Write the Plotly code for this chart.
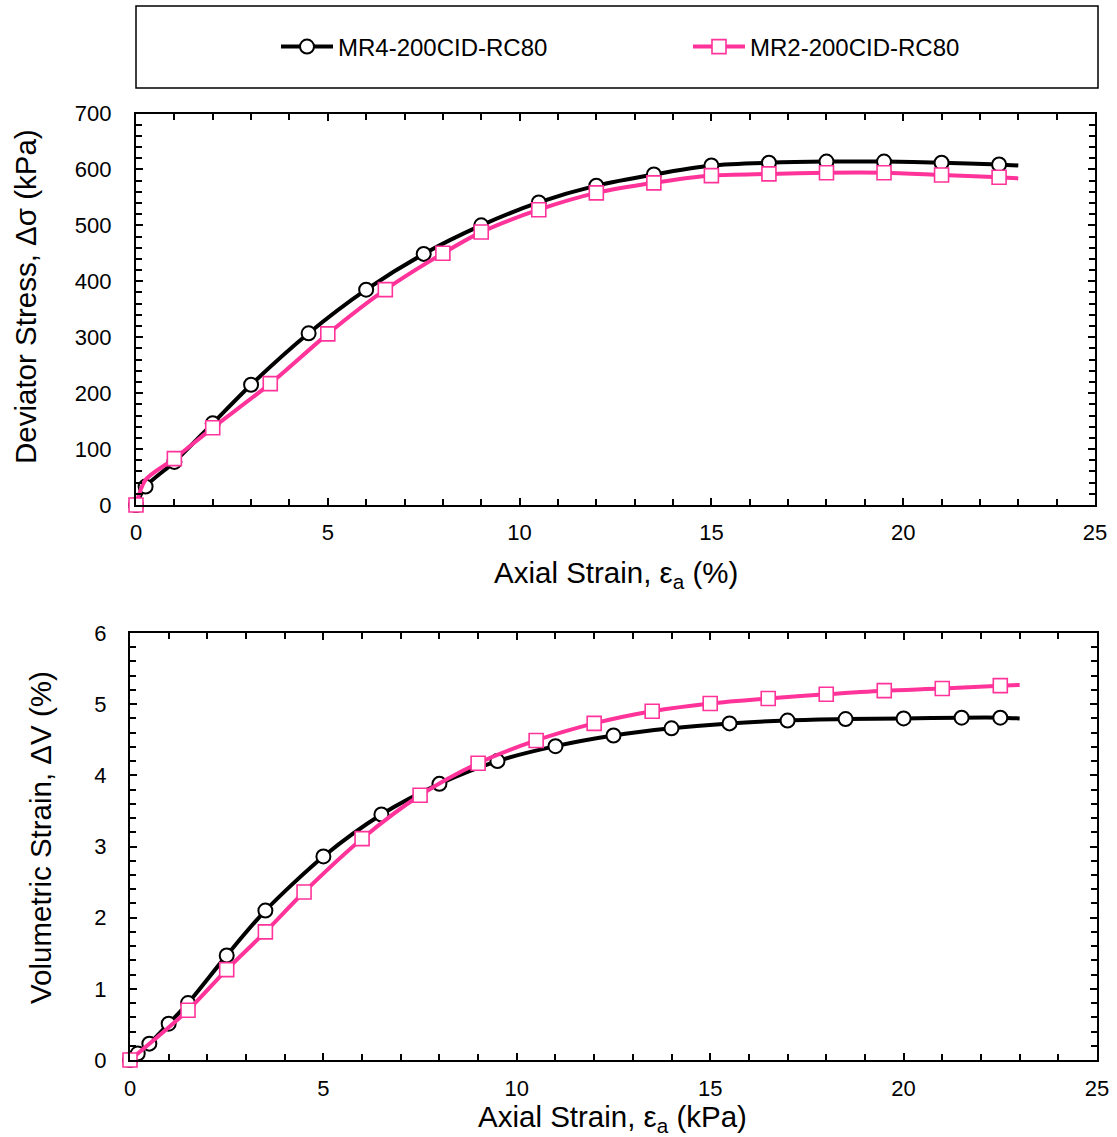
import plotly.graph_objects as go

W, H = 1117, 1137

# ---------------- data ----------------
series_names = ["MR4-200CID-RC80", "MR2-200CID-RC80"]

# Top: deviator stress vs axial strain (marked points)
top_mr4_x = [0, 0.25, 1, 2, 3, 4.5, 6, 7.5, 9, 10.5, 12, 13.5, 15, 16.5, 18, 19.5, 21, 22.5]
top_mr4_y = [0, 33, 77, 146, 215, 307, 385, 449, 500, 541, 571, 591, 607, 612, 614, 614, 612, 609]
top_mr2_x = [0, 1, 2, 3.5, 5, 6.5, 8, 9, 10.5, 12, 13.5, 15, 16.5, 18, 19.5, 21, 22.5]
top_mr2_y = [0, 83, 138, 217, 306, 385, 450, 488, 528, 558, 576, 589, 592, 594, 594, 590, 586]
# curve points (including unmarked points)
top_mr4_line_x = [0, 0.25, 1, 2, 3, 4.5, 6, 7.5, 9, 10.5, 12, 13.5, 15, 16.5, 18, 19.5, 21, 22.5, 23]
top_mr4_line_y = [0, 33, 77, 146, 215, 307, 385, 449, 500, 541, 571, 591, 607, 612, 614, 614, 612, 609, 607]
top_mr2_line_x = [0, 0.25, 1, 2, 3.5, 5, 6.5, 8, 9, 10.5, 12, 13.5, 15, 16.5, 18, 19.5, 21, 22.5, 23]
top_mr2_line_y = [0, 45, 83, 138, 217, 306, 385, 450, 488, 528, 558, 576, 589, 592, 594, 594, 590, 586, 584]

# Bottom: volumetric strain vs axial strain (marked points)
bot_mr4_x = [0, 0.2, 0.5, 1, 1.5, 2.5, 3.5, 5, 6.5, 8, 9.5, 11, 12.5, 14, 15.5, 17, 18.5, 20, 21.5, 22.5]
bot_mr4_y = [0, 0.09, 0.23, 0.51, 0.8, 1.47, 2.1, 2.86, 3.45, 3.88, 4.2, 4.41, 4.56, 4.66, 4.73, 4.77, 4.79, 4.8, 4.81, 4.81]
bot_mr2_x = [0, 1.5, 2.5, 3.5, 4.5, 6, 7.5, 9, 10.5, 12, 13.5, 15, 16.5, 18, 19.5, 21, 22.5]
bot_mr2_y = [0, 0.7, 1.27, 1.8, 2.36, 3.11, 3.72, 4.17, 4.49, 4.73, 4.9, 5.01, 5.08, 5.14, 5.19, 5.22, 5.26]
bot_mr4_line_x = bot_mr4_x + [23]
bot_mr4_line_y = bot_mr4_y + [4.8]
bot_mr2_line_x = bot_mr2_x + [23]
bot_mr2_line_y = bot_mr2_y + [5.27]

top_x_ticks = [0, 5, 10, 15, 20, 25]
top_y_ticks = [0, 100, 200, 300, 400, 500, 600, 700]
bot_x_ticks = [0, 5, 10, 15, 20, 25]
bot_y_ticks = [0, 1, 2, 3, 4, 5, 6]

# ---------------- styles ----------------
FONT = "Liberation Sans, Arial, sans-serif"
BLACK = "#000000"
PINK = "#ff3399"
styles = {
    "MR4": dict(color=BLACK, symbol="circle", msize=14, mlw=2),
    "MR2": dict(color=PINK, symbol="square", msize=14, mlw=1.6),
}
LINE_W = 4

def px_x(p):
    return p / W

def px_y(p):
    return 1 - p / H

fig = go.Figure()

def add_series(xl, yl, xm, ym, st, xa, ya):
    fig.add_trace(go.Scatter(x=xl, y=yl, mode="lines", line=dict(color=st["color"], width=LINE_W, shape="spline", smoothing=0.8),
                             xaxis=xa, yaxis=ya, showlegend=False, hoverinfo="skip"))
    fig.add_trace(go.Scatter(x=xm, y=ym, mode="markers", cliponaxis=False,
                             marker=dict(symbol=st["symbol"], size=st["msize"], color="white",
                                         line=dict(color=st["color"], width=st["mlw"])),
                             xaxis=xa, yaxis=ya, showlegend=False))

add_series(top_mr4_line_x, top_mr4_line_y, top_mr4_x, top_mr4_y, styles["MR4"], "x", "y")
add_series(top_mr2_line_x, top_mr2_line_y, top_mr2_x, top_mr2_y, styles["MR2"], "x", "y")
add_series(bot_mr4_line_x, bot_mr4_line_y, bot_mr4_x, bot_mr4_y, styles["MR4"], "x2", "y2")
add_series(bot_mr2_line_x, bot_mr2_line_y, bot_mr2_x, bot_mr2_y, styles["MR2"], "x2", "y2")

# legend entries
for name, key in zip(series_names, ["MR4", "MR2"]):
    st = styles[key]
    fig.add_trace(go.Scatter(x=[None], y=[None], mode="lines+markers", name=name,
                             line=dict(color=st["color"], width=LINE_W),
                             marker=dict(symbol=st["symbol"], size=st["msize"], color="white",
                                         line=dict(color=st["color"], width=st["mlw"])),
                             xaxis="x", yaxis="y"))

axis_common = dict(showline=True, linewidth=2.2, linecolor=BLACK, mirror="allticks",
                   ticks="inside", ticklen=7, tickwidth=1.8, tickcolor=BLACK,
                   showgrid=False, zeroline=False, automargin=False,
                   tickfont=dict(family=FONT, size=22, color=BLACK))

TITLE_FONT = dict(family=FONT, size=29.5, color=BLACK)

fig.update_layout(
    width=W, height=H,
    margin=dict(l=0, r=0, t=0, b=0),
    paper_bgcolor="white", plot_bgcolor="white",
    font=dict(family=FONT, color=BLACK),
    xaxis=dict(axis_common, domain=[px_x(136), px_x(1095)], range=[0, 25], tickvals=top_x_ticks,
               minor=dict(dtick=1, ticks="inside", ticklen=6, tickwidth=1.5, tickcolor=BLACK),
               anchor="y", ticklabelstandoff=6),
    yaxis=dict(axis_common, domain=[px_y(505), px_y(113.5)], range=[0, 700], tickvals=top_y_ticks,
               minor=dict(dtick=20, ticks="inside", ticklen=6, tickwidth=1.5, tickcolor=BLACK),
               anchor="x", ticklabelstandoff=18),
    xaxis2=dict(axis_common, domain=[px_x(130), px_x(1097)], range=[0, 25], tickvals=bot_x_ticks,
                minor=dict(dtick=1, ticks="inside", ticklen=6, tickwidth=1.5, tickcolor=BLACK),
                anchor="y2", ticklabelstandoff=7),
    yaxis2=dict(axis_common, domain=[px_y(1060), px_y(633)], range=[0, 6], tickvals=bot_y_ticks,
                minor=dict(dtick=0.2, ticks="inside", ticklen=6, tickwidth=1.5, tickcolor=BLACK),
                anchor="x2", ticklabelstandoff=17),
    legend=dict(orientation="h", x=px_x(276), y=px_y(47), xanchor="left", yanchor="middle",
                font=dict(family=FONT, size=24, color=BLACK), itemwidth=52, entrywidth=345,
                bgcolor="rgba(0,0,0,0)", borderwidth=0),
    shapes=[dict(type="rect", xref="paper", yref="paper", x0=px_x(136), x1=px_x(1098),
                 y0=px_y(88), y1=px_y(6), line=dict(color=BLACK, width=1.5))],
    annotations=[
        dict(text="Deviator Stress, Δσ (kPa)", xref="paper", yref="paper", x=px_x(25), y=px_y(297),
             textangle=-90, showarrow=False, xanchor="center", yanchor="middle", font=TITLE_FONT),
        dict(text="Axial Strain, ε<sub>a</sub> (%)", xref="paper", yref="paper", x=px_x(616), y=px_y(574),
             showarrow=False, xanchor="center", yanchor="middle", font=TITLE_FONT),
        dict(text="Volumetric Strain, ΔV (%)", xref="paper", yref="paper", x=px_x(40), y=px_y(838),
             textangle=-90, showarrow=False, xanchor="center", yanchor="middle", font=TITLE_FONT),
        dict(text="Axial Strain, ε<sub>a</sub> (kPa)", xref="paper", yref="paper", x=px_x(612), y=px_y(1118),
             showarrow=False, xanchor="center", yanchor="middle", font=TITLE_FONT),
    ],
)

fig.write_html("out.html")
